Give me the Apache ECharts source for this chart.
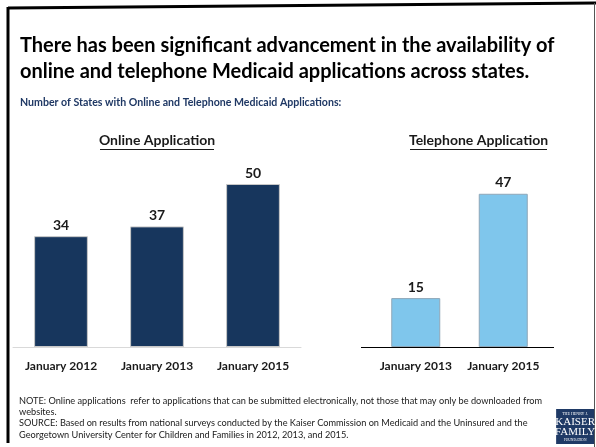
<!DOCTYPE html>
<html><head><meta charset="utf-8">
<script src="https://cdn.jsdelivr.net/npm/echarts@6/dist/echarts.min.js"></script>
<style>html,body{margin:0;padding:0;background:#fff}#c{width:596px;height:447px}</style>
</head><body><div id="c"></div>
<script>
var onlineCategories = ['January 2012', 'January 2013', 'January 2015'];
var onlineValues = [34, 37, 50];
var phoneCategories = ['January 2013', 'January 2015'];
var phoneValues = [15, 47];
var titleLines = ['There has been significant advancement in the availability of', 'online and telephone Medicaid applications across states.'];
var subtitle = 'Number of States with Online and Telephone Medicaid Applications:';
var panelTitles = ['Online Application', 'Telephone Application'];
var notes = ['NOTE: Online applications  refer to applications that can be submitted electronically, not those that may only be downloaded from', 'websites.', 'SOURCE: Based on results from national surveys conducted by the Kaiser Commission on Medicaid and the Uninsured and the', 'Georgetown University Center for Children and Families in 2012, 2013, and 2015.'];

var FONT = 'Lato';
var chart = echarts.init(document.getElementById('c'));
var labelStyle = {show: true, position: 'top', distance: 4, color: '#1a1a1a', fontFamily: FONT, fontWeight: 'bold', fontSize: 14};
var axisLabelStyle = {color: '#1a1a1a', fontFamily: FONT, fontWeight: 'bold', fontSize: 12, margin: 13, interval: 0};

chart.setOption({
  animation: false,
  title: [
    {text: titleLines.join('\n'), left: 20, top: 33, padding: 0, textStyle: {fontFamily: FONT, fontWeight: 'bold', fontSize: 20, lineHeight: 26, color: '#000'}},
    {text: subtitle, left: 20, top: 97, padding: 0, textStyle: {fontFamily: FONT, fontWeight: 'bold', fontSize: 10.6, color: '#1F3864'}},
    {text: panelTitles[0], left: 157, textAlign: 'center', top: 133, padding: 0, textStyle: {fontFamily: FONT, fontWeight: 'bold', fontSize: 14, color: '#1a1a1a'}},
    {text: panelTitles[1], left: 478.5, textAlign: 'center', top: 133, padding: 0, textStyle: {fontFamily: FONT, fontWeight: 'bold', fontSize: 14, color: '#1a1a1a'}},
    {text: notes.join('\n'), left: 19, top: 395, padding: 0, textStyle: {fontFamily: FONT, fontWeight: 'normal', fontSize: 9.2, lineHeight: 11.4, color: '#1a1a1a'}}
  ],
  grid: [
    {left: 13, width: 288, top: 184, bottom: 100},
    {left: 372, width: 175, top: 184, bottom: 100}
  ],
  xAxis: [
    {type: 'category', gridIndex: 0, data: onlineCategories, axisTick: {show: false}, axisLine: {lineStyle: {color: '#d9d9d9', width: 1}}, axisLabel: axisLabelStyle},
    {type: 'category', gridIndex: 1, data: phoneCategories, axisTick: {show: false}, axisLine: {show: false}, axisLabel: axisLabelStyle}
  ],
  yAxis: [
    {type: 'value', gridIndex: 0, min: 0, max: 50, show: false, splitLine: {show: false}},
    {type: 'value', gridIndex: 1, min: 0, max: 50, show: false, splitLine: {show: false}}
  ],
  series: [
    {type: 'bar', xAxisIndex: 0, yAxisIndex: 0, data: onlineValues, barWidth: '56%',
     itemStyle: {color: '#17365D', borderColor: '#c8c8c8', borderWidth: 1}, label: labelStyle},
    {type: 'bar', xAxisIndex: 1, yAxisIndex: 1, data: phoneValues, barWidth: '56%',
     itemStyle: {color: '#7FC6EC', borderColor: '#8fa7b8', borderWidth: 1}, label: labelStyle}
  ],
  graphic: [
    {type: 'line', shape: {x1: 8, y1: 8, x2: 596, y2: 3}, style: {stroke: '#000', lineWidth: 3}},
    {type: 'line', shape: {x1: 8, y1: 7, x2: 8, y2: 443}, style: {stroke: '#000', lineWidth: 3}},
    {type: 'line', shape: {x1: 594.5, y1: 3, x2: 594.5, y2: 447}, style: {stroke: '#555', lineWidth: 1}},
    {type: 'line', shape: {x1: 100, y1: 149.5, x2: 214, y2: 149.5}, style: {stroke: '#1a1a1a', lineWidth: 1}},
    {type: 'line', shape: {x1: 410, y1: 149.5, x2: 547, y2: 149.5}, style: {stroke: '#1a1a1a', lineWidth: 1}},
    {type: 'line', shape: {x1: 361, y1: 347.5, x2: 554, y2: 347.5}, style: {stroke: '#000', lineWidth: 1}},
    {type: 'group', left: 555, top: 409, children: [
      {type: 'rect', shape: {x: 0, y: 0, width: 38, height: 35}, style: {fill: '#1F3A66'}},
      {type: 'text', x: 19, y: 3, style: {text: 'THE HENRY J.', fill: '#fff', fontSize: 4, fontFamily: 'Liberation Serif', align: 'center'}},
      {type: 'text', x: 19, y: 8, style: {text: 'KAISER', fill: '#fff', fontSize: 11, fontFamily: 'Liberation Serif', align: 'center'}},
      {type: 'text', x: 19, y: 18, style: {text: 'FAMILY', fill: '#fff', fontSize: 11, fontFamily: 'Liberation Serif', align: 'center'}},
      {type: 'text', x: 19, y: 29, style: {text: 'FOUNDATION', fill: '#fff', fontSize: 3.5, fontFamily: 'Liberation Serif', align: 'center'}}
    ]}
  ]
});
</script></body></html>
